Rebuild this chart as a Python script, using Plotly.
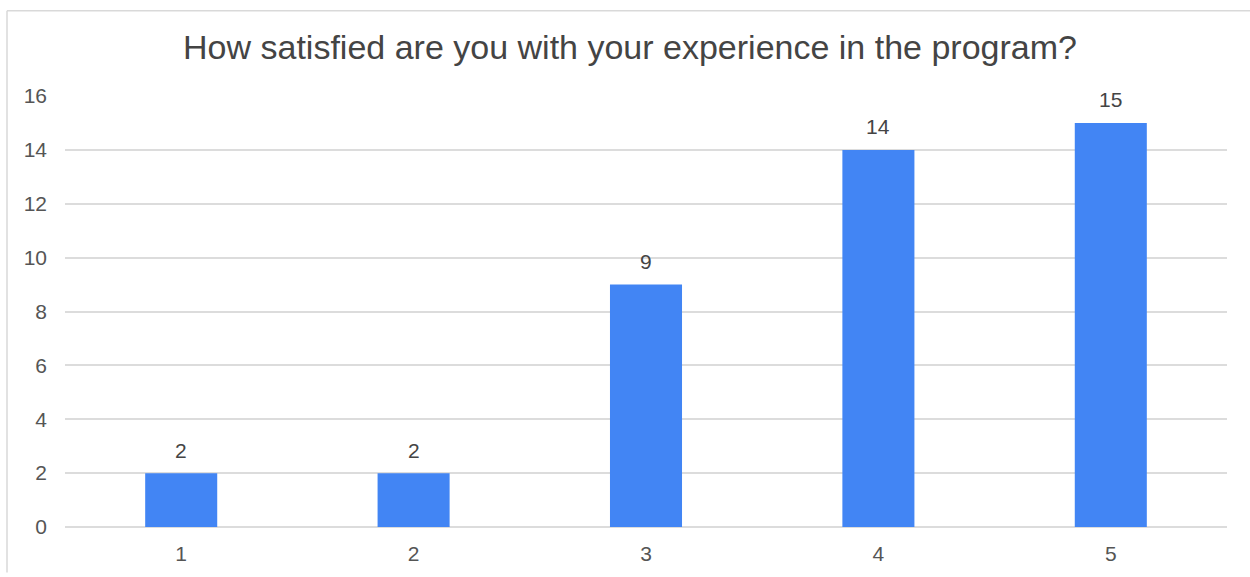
import plotly.graph_objects as go

categories = ["1", "2", "3", "4", "5"]
counts = [2, 2, 9, 14, 15]
title_text = "How satisfied are you with your experience in the program?"
y_ticks = [0, 2, 4, 6, 8, 10, 12, 14, 16]

FONT = "Liberation Sans, Arial, sans-serif"

fig = go.Figure()
fig.add_trace(go.Bar(
    x=categories, y=counts,
    marker=dict(color="#4285F4", line=dict(width=0)),
    hoverinfo="x+y",
))

for i, v in enumerate(counts):
    fig.add_annotation(x=i, y=v, text=str(v), showarrow=False, yshift=23,
                       font=dict(family=FONT, size=21, color="#444444"))

fig.update_layout(
    width=1250, height=577,
    margin=dict(l=65, r=23, t=96, b=46),
    paper_bgcolor="white", plot_bgcolor="white",
    bargap=0.69,
    showlegend=False,
    title=dict(text=title_text, x=0.504, xanchor="center", y=1 - 47/577, yanchor="middle",
               font=dict(family=FONT, size=34, color="#444444")),
    font=dict(family=FONT, size=21, color="#555555"),
    xaxis=dict(type="category", showgrid=False, showline=False, ticks="", ticklabelstandoff=12),
    yaxis=dict(range=[0, 16], tickvals=y_ticks, showgrid=True, gridcolor="#dcdcdc", gridwidth=1.5,
               zeroline=True, zerolinecolor="#dcdcdc", zerolinewidth=1.5, ticks="",
               ticklabelstandoff=17, fixedrange=True),
    shapes=[
        dict(type="line", xref="paper", yref="paper", x0=(7-65)/1162, x1=(1250-65)/1162,
             y0=(531-10)/435, y1=(531-10)/435, line=dict(color="#d9d9d9", width=1.5)),
        dict(type="line", xref="paper", yref="paper", x0=(7-65)/1162, x1=(7-65)/1162,
             y0=(531-10)/435, y1=(531-577)/435, line=dict(color="#d9d9d9", width=1.5)),
    ],
)

fig.write_html("out.html")
